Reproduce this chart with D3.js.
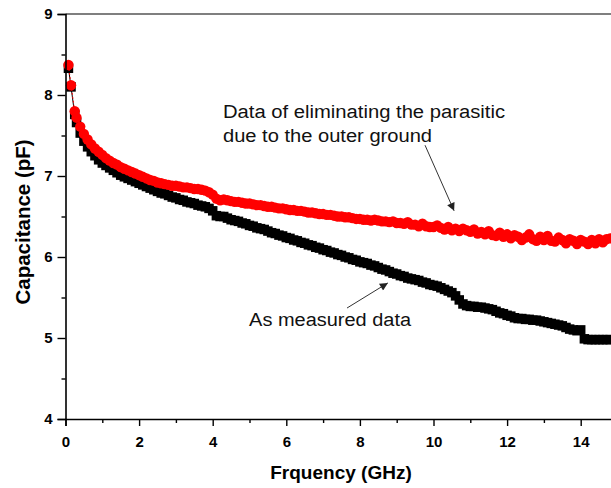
<!DOCTYPE html>
<html>
<head>
<meta charset="utf-8">
<script src="https://cdn.jsdelivr.net/npm/d3@7"></script>
<style>
  body { margin: 0; background: #fff; }
  svg { display: block; font-family: "Liberation Sans", Arial, sans-serif; }
</style>
</head>
<body>
<svg width="611" height="488"></svg>
<script>
// frequency points (GHz)
var freq = [0.08, 0.15, 0.25,
  0.3, 0.4, 0.5, 0.6, 0.7, 0.8, 0.9, 1.0, 1.1, 1.2, 1.3, 1.4, 1.5, 1.6, 1.7, 1.8, 1.9, 2.0,
  2.1, 2.2, 2.3, 2.4, 2.5, 2.6, 2.7, 2.8, 2.9, 3.0, 3.1, 3.2, 3.3, 3.4, 3.5, 3.6, 3.7, 3.8, 3.9, 4.0,
  4.1, 4.2, 4.3, 4.4, 4.5, 4.6, 4.7, 4.8, 4.9, 5.0, 5.1, 5.2, 5.3, 5.4, 5.5, 5.6, 5.7, 5.8, 5.9, 6.0,
  6.1, 6.2, 6.3, 6.4, 6.5, 6.6, 6.7, 6.8, 6.9, 7.0, 7.1, 7.2, 7.3, 7.4, 7.5, 7.6, 7.7, 7.8, 7.9, 8.0,
  8.1, 8.2, 8.3, 8.4, 8.5, 8.6, 8.7, 8.8, 8.9, 9.0, 9.1, 9.2, 9.3, 9.4, 9.5, 9.6, 9.7, 9.8, 9.9, 10.0,
  10.1, 10.2, 10.3, 10.4, 10.5, 10.6, 10.7, 10.8, 10.9, 11.0, 11.1, 11.2, 11.3, 11.4, 11.5, 11.6, 11.7, 11.8, 11.9, 12.0,
  12.1, 12.2, 12.3, 12.4, 12.5, 12.6, 12.7, 12.8, 12.9, 13.0, 13.1, 13.2, 13.3, 13.4, 13.5, 13.6, 13.7, 13.8, 13.9, 14.0,
  14.1, 14.2, 14.3, 14.4, 14.5, 14.6, 14.7, 14.8];

// as measured (pF)
var measured = [8.33, 8.10, 7.76,
  7.66, 7.53, 7.43, 7.36, 7.30, 7.25, 7.20, 7.16, 7.13, 7.10, 7.07, 7.04, 7.01, 6.99, 6.97, 6.95, 6.93, 6.91,
  6.89, 6.87, 6.85, 6.83, 6.81, 6.79, 6.78, 6.76, 6.74, 6.73, 6.71, 6.70, 6.68, 6.67, 6.66, 6.64, 6.63, 6.62, 6.60, 6.57,
  6.51, 6.50, 6.50, 6.48, 6.46, 6.45, 6.44, 6.42, 6.41, 6.39, 6.38, 6.36, 6.35, 6.34, 6.32, 6.30, 6.29, 6.27, 6.26, 6.24,
  6.23, 6.21, 6.20, 6.18, 6.17, 6.15, 6.14, 6.12, 6.11, 6.09, 6.08, 6.06, 6.05, 6.03, 6.02, 6.00, 5.99, 5.97, 5.96, 5.94,
  5.93, 5.92, 5.90, 5.89, 5.87, 5.85, 5.84, 5.82, 5.80, 5.79, 5.77, 5.76, 5.74, 5.73, 5.72, 5.71, 5.69, 5.68, 5.66, 5.65,
  5.64, 5.62, 5.60, 5.58, 5.56, 5.52, 5.47, 5.42, 5.40, 5.39, 5.39, 5.38, 5.38, 5.37, 5.36, 5.35, 5.33, 5.31, 5.30, 5.28,
  5.27, 5.25, 5.24, 5.24, 5.23, 5.23, 5.22, 5.22, 5.21, 5.20, 5.19, 5.18, 5.17, 5.16, 5.15, 5.13, 5.11, 5.10, 5.09, 5.10,
  4.99, 4.98, 4.98, 4.98, 4.98, 4.98, 4.98, 4.98];

// after removing the outer-ground parasitic (pF)
var corrected = [8.37, 8.12, 7.80,
  7.72, 7.61, 7.52, 7.45, 7.39, 7.34, 7.30, 7.26, 7.22, 7.19, 7.16, 7.14, 7.11, 7.09, 7.07, 7.05, 7.03, 7.01,
  6.99, 6.97, 6.95, 6.94, 6.92, 6.91, 6.90, 6.89, 6.88, 6.88, 6.87, 6.86, 6.86, 6.85, 6.84, 6.84, 6.83, 6.82, 6.80, 6.77,
  6.72, 6.70, 6.71, 6.70, 6.69, 6.68, 6.68, 6.67, 6.66, 6.66, 6.65, 6.64, 6.64, 6.63, 6.62, 6.62, 6.61, 6.60, 6.60, 6.59,
  6.58, 6.58, 6.57, 6.57, 6.56, 6.55, 6.55, 6.54, 6.53, 6.53, 6.52, 6.52, 6.51, 6.50, 6.50, 6.49, 6.49, 6.48, 6.47, 6.47,
  6.46, 6.46, 6.45, 6.46, 6.45, 6.44, 6.44, 6.43, 6.44, 6.42, 6.42, 6.41, 6.43, 6.40, 6.40, 6.38, 6.41, 6.38, 6.37, 6.37,
  6.39, 6.36, 6.34, 6.37, 6.33, 6.35, 6.32, 6.35, 6.33, 6.31, 6.34, 6.29, 6.31, 6.28, 6.32, 6.27, 6.26, 6.30, 6.25, 6.28,
  6.23, 6.27, 6.25, 6.21, 6.24, 6.28, 6.22, 6.20, 6.25, 6.21, 6.26, 6.20, 6.19, 6.24, 6.21, 6.17, 6.22, 6.20, 6.16, 6.21,
  6.19, 6.16, 6.21, 6.17, 6.22, 6.18, 6.22, 6.23];

var xTicks = [0, 2, 4, 6, 8, 10, 12, 14];
var yTicks = [4, 5, 6, 7, 8, 9];

var svg = d3.select("svg"),
    width = +svg.attr("width"),
    height = +svg.attr("height");

var x = d3.scaleLinear().domain([0, 15]).range([65.5, 617.5]);
var y = d3.scaleLinear().domain([4, 9]).range([419, 14]);

var measuredData = freq.map(function(f, i){ return {f: f, c: measured[i]}; });
var correctedData = freq.map(function(f, i){ return {f: f, c: corrected[i]}; });

var line = d3.line()
    .x(function(d){ return x(d.f); })
    .y(function(d){ return y(d.c); });

// top frame line
svg.append("line")
    .attr("x1", x(0)).attr("x2", x(15))
    .attr("y1", y(9)).attr("y2", y(9))
    .attr("stroke", "#555").attr("stroke-width", 1.6);

// measured series: black squares
svg.append("path")
    .datum(measuredData)
    .attr("d", line)
    .attr("fill", "none").attr("stroke", "#000").attr("stroke-width", 1);

var sq = 9.5;
svg.append("g").selectAll("rect")
    .data(measuredData)
    .enter().append("rect")
    .attr("x", function(d){ return x(d.f) - sq / 2; })
    .attr("y", function(d){ return y(d.c) - sq / 2; })
    .attr("width", sq).attr("height", sq)
    .attr("fill", "#000");

// corrected series: red circles
svg.append("path")
    .datum(correctedData)
    .attr("d", line)
    .attr("fill", "none").attr("stroke", "#f00").attr("stroke-width", 1)
    .attr("stroke-dasharray", "2,2");

svg.append("g").selectAll("circle")
    .data(correctedData)
    .enter().append("circle")
    .attr("cx", function(d){ return x(d.f); })
    .attr("cy", function(d){ return y(d.c); })
    .attr("r", 5.2)
    .attr("fill", "#f00");

// axes
var xAxis = svg.append("g")
    .attr("transform", "translate(0," + y(4) + ")")
    .call(d3.axisBottom(x).tickValues(xTicks).tickSize(7).tickFormat(d3.format("d")));
var xMinor = svg.append("g")
    .attr("transform", "translate(0," + y(4) + ")")
    .call(d3.axisBottom(x).tickValues([1, 3, 5, 7, 9, 11, 13]).tickSize(4).tickFormat(""));

var yAxis = svg.append("g")
    .attr("transform", "translate(" + x(0) + ",0)")
    .call(d3.axisLeft(y).tickValues(yTicks).tickSize(8).tickFormat(d3.format("d")));
var yMinor = svg.append("g")
    .attr("transform", "translate(" + x(0) + ",0)")
    .call(d3.axisLeft(y).tickValues([4.5, 5.5, 6.5, 7.5, 8.5]).tickSize(4).tickFormat(""));

[xAxis, xMinor, yAxis, yMinor].forEach(function(g){
    g.select(".domain").attr("stroke", "#000").attr("stroke-width", 1.6);
    g.selectAll(".tick line").attr("stroke", "#000").attr("stroke-width", 1.4);
});
xMinor.select(".domain").remove();
yMinor.select(".domain").remove();

xAxis.selectAll(".tick text")
    .attr("y", 17).attr("dy", "0.71em")
    .style("font-size", "15px").style("font-weight", "bold").attr("fill", "#000");
yAxis.selectAll(".tick text")
    .attr("x", -13)
    .style("font-size", "15px").style("font-weight", "bold").attr("fill", "#000");

// axis titles
svg.append("text")
    .attr("x", 341).attr("y", 479)
    .attr("text-anchor", "middle")
    .style("font-size", "19px").style("font-weight", "bold")
    .text("Frquency (GHz)");

svg.append("text")
    .attr("transform", "translate(30,222) rotate(-90)")
    .attr("text-anchor", "middle")
    .style("font-size", "20.5px").style("font-weight", "bold")
    .text("Capacitance (pF)");

// annotations
svg.append("defs").append("marker")
    .attr("id", "arrow")
    .attr("viewBox", "0 0 10 10")
    .attr("refX", 10).attr("refY", 5)
    .attr("markerWidth", 10).attr("markerHeight", 8)
    .attr("markerUnits", "userSpaceOnUse")
    .attr("orient", "auto")
    .append("path")
    .attr("d", "M0,0L10,5L0,10z")
    .attr("fill", "#222");

var notes = [
    {f: 4.28, c: 7.72, t: "Data of eliminating the parasitic", w: 282},
    {f: 4.28, c: 7.42, t: "due to the outer ground", w: 209},
    {f: 4.99, c: 5.15, t: "As measured data", w: 162}
];
svg.append("g").selectAll("text")
    .data(notes)
    .enter().append("text")
    .attr("x", function(d){ return x(d.f); })
    .attr("y", function(d){ return y(d.c); })
    .attr("textLength", function(d){ return d.w; })
    .attr("lengthAdjust", "spacingAndGlyphs")
    .style("font-size", "18px")
    .attr("fill", "#111")
    .text(function(d){ return d.t; });

var arrows = [
    {f1: 9.77, c1: 7.38, f2: 10.56, c2: 6.57},
    {f1: 7.65, c1: 5.37, f2: 8.76, c2: 5.68}
];
svg.append("g").selectAll("line")
    .data(arrows)
    .enter().append("line")
    .attr("x1", function(d){ return x(d.f1); })
    .attr("y1", function(d){ return y(d.c1); })
    .attr("x2", function(d){ return x(d.f2); })
    .attr("y2", function(d){ return y(d.c2); })
    .attr("stroke", "#333").attr("stroke-width", 1)
    .attr("marker-end", "url(#arrow)");
</script>
</body>
</html>
